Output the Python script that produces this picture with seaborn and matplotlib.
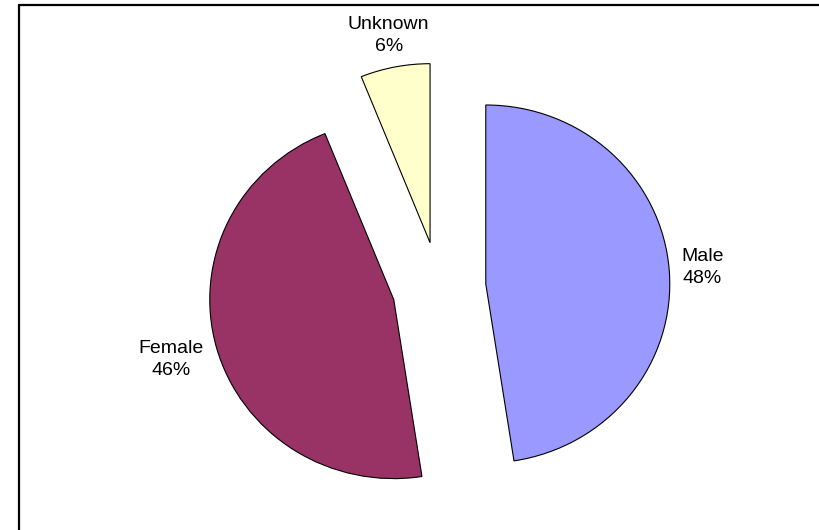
import matplotlib
matplotlib.use("Agg")
import matplotlib.pyplot as plt
import seaborn as sns
import numpy as np
from matplotlib.lines import Line2D

# Data (slice angles), labels show rounded %
categories = ["Male", "Female", "Unknown"]
shares = [47.55, 46.35, 6.1]
colors = ["#9999FF", "#993366", "#FFFFCC"]

# every slice pulled out by the same amount
explode = [0.255, 0.255, 0.255]
# distance of each label from its slice tip (in radii)
label_dist = [1.18, 1.255, 1.18]

sns.set_theme(style="white")
plt.rcParams["font.family"] = ["Liberation Sans", "DejaVu Sans"]

fig = plt.figure(figsize=(8.19, 5.30), dpi=100)
ax = fig.add_axes([0, 0, 1, 1])

wedges, _ = ax.pie(
    shares,
    colors=colors,
    explode=explode,
    startangle=90,
    counterclock=False,
    radius=1,
    wedgeprops=dict(edgecolor="black", linewidth=0.8),
)

# pie is slightly wider than tall in the original
ax.set_aspect("auto")
rx, ry = 184, 179
cx, cy = 439, 287.5
ax.set_xlim(-cx / rx, (819 - cx) / rx)
ax.set_ylim(-(530 - cy) / ry, cy / ry)
ax.axis("off")

# labels: name and percent, centred out from each slice
total = sum(shares)
for w, name, val, d in zip(wedges, categories, shares, label_dist):
    mid = np.deg2rad((w.theta1 + w.theta2) / 2)
    x0, y0 = w.center
    pct = int(100 * val / total + 0.5)
    ax.text(x0 + d * np.cos(mid), y0 + d * np.sin(mid), f"{name}\n{pct}%",
            ha="center", va="center", fontsize=14, linespacing=1.4,
            color="black")

# chart frame (only the top and left edges fall inside the image)
top = 1 - 4.5 / 530
left = 18.5 / 819
fig.add_artist(Line2D([left, left], [0, top], transform=fig.transFigure,
                      color="black", lw=1.6))
fig.add_artist(Line2D([left, 1], [top, top], transform=fig.transFigure,
                      color="black", lw=1.6))

fig.savefig("out.png", dpi=100)
